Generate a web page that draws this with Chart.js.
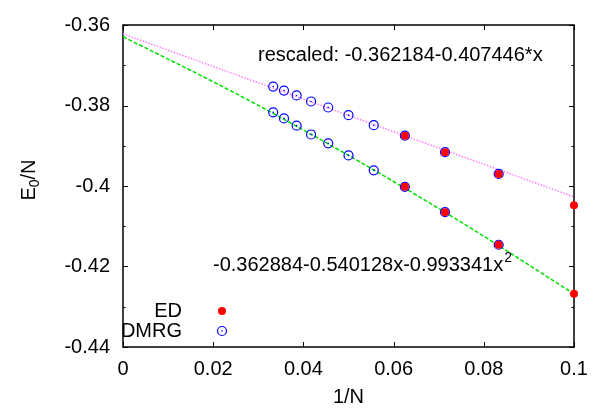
<!DOCTYPE html>
<html>
<head>
<meta charset="utf-8">
<script src="https://cdn.jsdelivr.net/npm/chart.js@4.4.1/dist/chart.umd.min.js"></script>
<style>
  html, body { margin: 0; padding: 0; background: #fff; }
</style>
</head>
<body>
<canvas id="energyChart" width="606" height="414"></canvas>
<script>
// 1/N for DMRG runs (N = 30 ... 12)
const dmrgX = [0.0333, 0.0357, 0.0385, 0.0417, 0.0455, 0.05, 0.0556, 0.0625, 0.0714, 0.0833];
const dmrgRescaled = [-0.3753, -0.3763, -0.3775, -0.3790, -0.3805, -0.3824, -0.3849, -0.3875, -0.3916, -0.3970];
const dmrgRaw = [-0.3817, -0.3832, -0.3850, -0.3872, -0.3894, -0.3924, -0.3961, -0.4002, -0.4065, -0.4146];

// 1/N for ED (N = 10 ... 16)
const edX = [0.1, 0.0833, 0.0714, 0.0625];
const edRescaled = [-0.4048, -0.3970, -0.3916, -0.3875];
const edRaw = [-0.4268, -0.4146, -0.4065, -0.4002];

// fit curves
const fitLinX = [0, 0.1];
const fitLinY = [-0.3622, -0.4027];
const fitQuadX = [0, 0.025, 0.05, 0.075, 0.1];
const fitQuadY = [-0.3629, -0.3770, -0.3924, -0.4090, -0.4268];

const fitLinLabel = 'rescaled: -0.362184-0.407446*x';
const fitQuadLabel = '-0.362884-0.540128x-0.993341x';
const xTitle = '1/N';

const FONT = '"Liberation Sans", Arial, Helvetica, sans-serif';

function pts(xs, ys) {
    return xs.map((x, i) => ({ x: x, y: ys[i] }));
}

function fmt(v) {
    return String(Number(v.toFixed(2)));
}

const framePlugin = {
    id: 'frame',
    beforeDatasetsDraw(chart) {
        const ctx = chart.ctx;
        const a = chart.chartArea;
        ctx.save();
        ctx.strokeStyle = '#000';
        ctx.lineWidth = 1.5;
        ctx.strokeRect(a.left, a.top, a.right - a.left, a.bottom - a.top);
        ctx.lineWidth = 1;
        ctx.beginPath();
        chart.scales.y.ticks.forEach(t => {
            const y = Math.round(chart.scales.y.getPixelForValue(t.value)) + 0.5;
            const len = t.label === '' ? 2.5 : 5;
            ctx.moveTo(a.left, y); ctx.lineTo(a.left + len, y);
            ctx.moveTo(a.right, y); ctx.lineTo(a.right - len, y);
        });
        chart.scales.x.ticks.forEach(t => {
            const x = Math.round(chart.scales.x.getPixelForValue(t.value)) + 0.5;
            ctx.moveTo(x, a.bottom); ctx.lineTo(x, a.bottom - 5);
            ctx.moveTo(x, a.top); ctx.lineTo(x, a.top + 5);
        });
        ctx.stroke();
        ctx.restore();
    },
    afterDraw(chart) {
        const ctx = chart.ctx;
        const a = chart.chartArea;
        ctx.save();
        ctx.fillStyle = '#000';
        ctx.font = '20px ' + FONT;
        ctx.textBaseline = 'alphabetic';

        // fit labels
        ctx.textAlign = 'left';
        ctx.fillText(fitLinLabel, 258, 61);
        ctx.fillText(fitQuadLabel, 213, 271);
        const w = ctx.measureText(fitQuadLabel).width;
        ctx.font = '14px ' + FONT;
        ctx.fillText('2', 213 + w + 1, 262);

        // x title
        ctx.font = '20px ' + FONT;
        ctx.textAlign = 'center';
        ctx.fillText(xTitle, (a.left + a.right) / 2, 403);

        // y title E_0/N
        ctx.save();
        ctx.translate(35, 180);
        ctx.rotate(-Math.PI / 2);
        ctx.textAlign = 'left';
        const wE = ctx.measureText('E').width;
        const wN = ctx.measureText('/N').width;
        ctx.font = '14px ' + FONT;
        const w0 = ctx.measureText('0').width;
        const start = -(wE + w0 + wN) / 2;
        ctx.font = '20px ' + FONT;
        ctx.fillText('E', start, 0);
        ctx.font = '14px ' + FONT;
        ctx.fillText('0', start + wE, 4);
        ctx.font = '20px ' + FONT;
        ctx.fillText('/N', start + wE + w0, 0);
        ctx.restore();

        // legend
        ctx.textAlign = 'right';
        ctx.fillText('ED', 182, 317);
        ctx.fillText('DMRG', 182, 337);
        ctx.fillStyle = '#ff0000';
        ctx.beginPath();
        ctx.arc(222, 311, 4, 0, Math.PI * 2);
        ctx.fill();
        ctx.strokeStyle = '#0000ff';
        ctx.lineWidth = 1.2;
        ctx.beginPath();
        ctx.arc(222, 331, 4.5, 0, Math.PI * 2);
        ctx.stroke();
        ctx.fillStyle = '#0000ff';
        ctx.beginPath();
        ctx.arc(222, 331, 0.8, 0, Math.PI * 2);
        ctx.fill();
        ctx.restore();
    }
};

const pointDefaults = { showLine: false, clip: false, pointHoverRadius: 0 };

new Chart(document.getElementById('energyChart').getContext('2d'), {
    type: 'scatter',
    data: {
        datasets: [
            Object.assign({
                label: 'ED',
                data: pts(edX, edRescaled).concat(pts(edX, edRaw)),
                pointRadius: 4,
                pointBorderWidth: 0,
                pointBackgroundColor: '#ff0000',
                borderColor: '#ff0000'
            }, pointDefaults),
            Object.assign({
                label: 'DMRG dot',
                data: pts(dmrgX, dmrgRescaled).concat(pts(dmrgX, dmrgRaw)),
                pointRadius: 0.8,
                pointBorderWidth: 0,
                pointBackgroundColor: '#0000ff'
            }, pointDefaults),
            Object.assign({
                label: 'DMRG',
                data: pts(dmrgX, dmrgRescaled).concat(pts(dmrgX, dmrgRaw)),
                pointRadius: 4.5,
                pointBorderWidth: 1.2,
                pointBorderColor: '#0000ff',
                pointBackgroundColor: 'rgba(0,0,0,0)'
            }, pointDefaults),
            {
                label: 'fit rescaled',
                data: pts(fitLinX, fitLinY),
                showLine: true,
                pointRadius: 0,
                borderColor: '#ff80ff',
                borderWidth: 1.5,
                borderDash: [1.5, 1.5]
            },
            {
                label: 'fit quadratic',
                data: pts(fitQuadX, fitQuadY),
                showLine: true,
                pointRadius: 0,
                cubicInterpolationMode: 'monotone',
                borderColor: '#00e000',
                borderWidth: 1.5,
                borderDash: [4, 2]
            }
        ]
    },
    options: {
        responsive: false,
        animation: false,
        devicePixelRatio: 1,
        layout: { padding: { left: 0, top: 12, right: 32, bottom: 0 } },
        plugins: { legend: { display: false }, tooltip: { enabled: false } },
        scales: {
            x: {
                type: 'linear',
                min: 0,
                max: 0.1,
                grid: { display: false, drawTicks: false },
                border: { display: false },
                ticks: {
                    stepSize: 0.02,
                    autoSkip: false,
                    maxRotation: 0,
                    padding: 10,
                    color: '#000',
                    font: { family: FONT, size: 20 },
                    callback: v => fmt(v)
                },
                afterFit: s => { s.height = 67; }
            },
            y: {
                type: 'linear',
                min: -0.44,
                max: -0.36,
                grid: { display: false, drawTicks: false },
                border: { display: false },
                ticks: {
                    stepSize: 0.01,
                    autoSkip: false,
                    padding: 13,
                    color: '#000',
                    font: { family: FONT, size: 20 },
                    callback: v => (Math.round(v * 100) % 2 === 0 ? fmt(v) : '')
                },
                afterFit: s => { s.width = 123; }
            }
        }
    },
    plugins: [framePlugin]
});
</script>
</body>
</html>
